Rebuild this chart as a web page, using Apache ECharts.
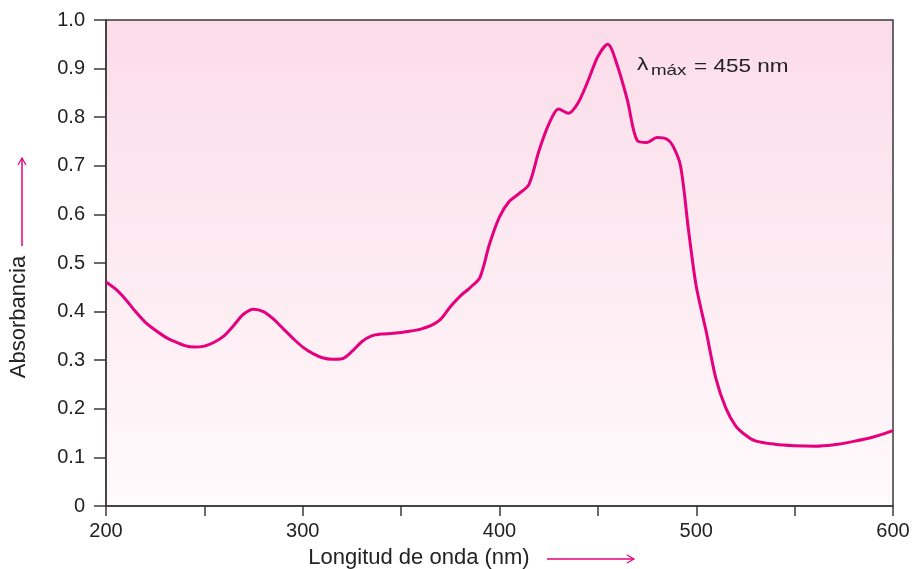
<!DOCTYPE html>
<html>
<head>
<meta charset="utf-8">
<script src="https://cdn.jsdelivr.net/npm/echarts@6/dist/echarts.min.js"></script>
<style>html,body{margin:0;padding:0;background:#fff}#c{width:913px;height:569px}</style>
</head>
<body>
<div id="c"></div>
<script>
var wavelengths = [200,205,210,215,220,225,230,235,240,245,250,255,260,265,270,275,280,285,290,295,300,305,310,315,320,325,330,335,340,345,350,355,360,365,370,375,380,385,390,395,400,405,410,415,420,425,430,435,440,445,450,455,460,465,470,475,480,485,488,492,496,500,505,510,515,520,525,530,540,550,560,570,580,590,600];
var absorbance = [0.461,0.446,0.425,0.400,0.378,0.362,0.348,0.338,0.330,0.327,0.329,0.337,0.350,0.372,0.395,0.405,0.400,0.385,0.365,0.345,0.327,0.314,0.305,0.302,0.303,0.318,0.338,0.350,0.354,0.355,0.357,0.360,0.364,0.371,0.384,0.410,0.432,0.449,0.470,0.540,0.595,0.627,0.643,0.662,0.730,0.785,0.817,0.808,0.830,0.875,0.925,0.950,0.905,0.835,0.752,0.748,0.758,0.755,0.742,0.700,0.570,0.452,0.360,0.262,0.202,0.165,0.146,0.134,0.127,0.124,0.123,0.126,0.133,0.142,0.155];
var xTicks = [200,300,400,500,600];
var yTitle = 'Absorbancia';
var xTitle = 'Longitud de onda (nm)';
var noteSymbol = 'λ', noteSub = 'máx', noteText = '= 455 nm';

var chart = echarts.init(document.getElementById('c'));
var font = 'Liberation Sans, Arial, sans-serif';
var pink = '#e6007e';
var pts = wavelengths.map(function(w,i){return [w, absorbance[i]];});
chart.setOption({
  animation:false,
  grid:{left:106,right:20,top:20,bottom:63,show:true,borderColor:'#3a3a3a',borderWidth:1.5,
    backgroundColor:new echarts.graphic.LinearGradient(0,0,0,1,[{offset:0,color:'#fbdce8'},{offset:1,color:'#fffafc'}])},
  xAxis:{type:'value',min:200,max:600,interval:50,
    axisLine:{lineStyle:{color:'#3a3a3a',width:1.5}},
    axisTick:{length:10,lineStyle:{color:'#3a3a3a',width:1.5}},
    splitLine:{show:false},
    axisLabel:{color:'#222',fontSize:20,fontFamily:font,margin:15,
      formatter:function(v){return xTicks.indexOf(v)>=0?String(v):'';}}},
  yAxis:{type:'value',min:0,max:1,interval:0.1,
    axisLine:{lineStyle:{color:'#3a3a3a',width:1.5}},
    axisTick:{length:12,lineStyle:{color:'#3a3a3a',width:1.5}},
    splitLine:{show:false},
    axisLabel:{color:'#222',fontSize:20,fontFamily:font,margin:21,
      formatter:function(v){return v===0?'0':v.toFixed(1);}}},
  series:[{type:'line',data:pts,smooth:0.3,showSymbol:false,
    lineStyle:{color:pink,width:3}}],
  graphic:[
    {type:'text',x:637,y:65,scaleX:1.2,style:{text:noteSymbol,fontSize:19,fontFamily:font,fill:'#222',verticalAlign:'middle'}},
    {type:'text',x:651,y:71,scaleX:1.25,style:{text:noteSub,fontSize:15,fontFamily:font,fill:'#222',verticalAlign:'middle'}},
    {type:'text',x:694,y:67,scaleX:1.25,style:{text:noteText,fontSize:18,fontFamily:font,fill:'#222',verticalAlign:'middle'}},
    {type:'text',x:19,y:317,rotation:Math.PI/2,style:{text:yTitle,fontSize:22,fontFamily:font,fill:'#222',align:'center',verticalAlign:'middle'}},
    {type:'text',x:419,y:558,style:{text:xTitle,fontSize:22,fontFamily:font,fill:'#222',align:'center',verticalAlign:'middle'}},
    {type:'line',shape:{x1:22,y1:246,x2:22,y2:158},style:{stroke:pink,lineWidth:1.5}},
    {type:'polyline',shape:{points:[[18,165],[22,158],[26,165]]},style:{stroke:pink,lineWidth:1.2,fill:null}},
    {type:'line',shape:{x1:547,y1:559,x2:634,y2:559},style:{stroke:pink,lineWidth:1.5}},
    {type:'polyline',shape:{points:[[627,555],[634,559],[627,563]]},style:{stroke:pink,lineWidth:1.2,fill:null}}
  ]
});
</script>
</body>
</html>
